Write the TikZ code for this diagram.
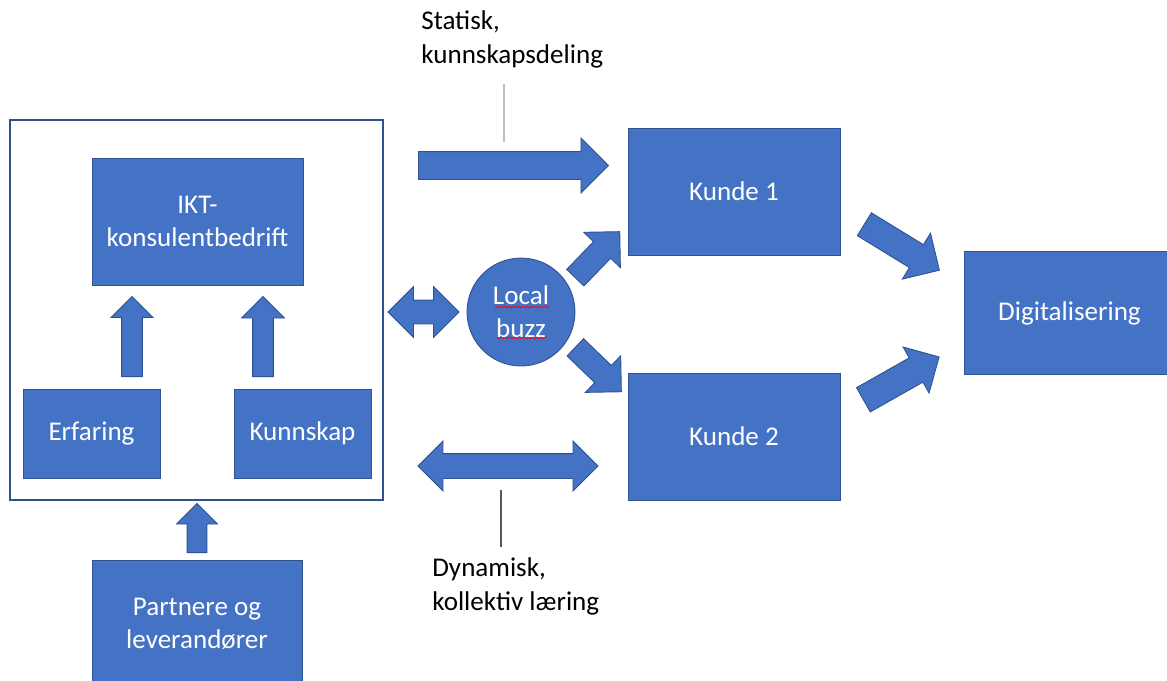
\documentclass[tikz,border=0pt]{standalone}
\usepackage{fontspec}
\setmainfont{Carlito}
\usetikzlibrary{shapes,arrows,calc,decorations.pathmorphing}
\definecolor{boxblue}{HTML}{4472C4}
\definecolor{boxline}{HTML}{2F528F}
\definecolor{guidegray}{HTML}{BFBFBF}
\definecolor{guidedark}{HTML}{595959}
\newcommand{\pxl}{0.569pt}

\begin{document}
\begin{tikzpicture}[x=0.02cm,y=-0.02cm,
    every node/.style={font=\fontsize{15.4}{18.8}\selectfont},
    box/.style 2 args={rectangle,draw=boxline,fill=boxblue,line width=0.5pt,
      text=white,align=center,minimum width=#1*\pxl,minimum height=#2*\pxl},
    blk/.style n args={3}{single arrow,draw=boxline,fill=boxblue,line width=0.5pt,
      inner xsep=0pt,inner ysep={#3/2*\pxl},minimum height=#1*\pxl,minimum width=#2*\pxl,
      single arrow head extend={(#2-#3)/2*\pxl},anchor=tail},
    dblk/.style n args={3}{double arrow,draw=boxline,fill=boxblue,line width=0.5pt,
      inner xsep=0pt,inner ysep={#3/2*\pxl},minimum height=#1*\pxl,minimum width=#2*\pxl,
      double arrow head extend={(#2-#3)/2*\pxl}},
    note/.style={align=left,anchor=base west,inner sep=0pt}]
        \clip (0,0) rectangle (1167,680);
        %Firm with its parts
        \node[draw=boxline,line width=0.8pt,minimum width=373*\pxl,minimum height=380*\pxl] (firma) at (196.5,310) {};
        \node[box={211}{127}] (ikt) at (197.5,221.5) {IKT-\\konsulentbedrift};
        \node[box={137}{89}] (erfaring) at (91.5,433.5) {Erfaring};
        \node[box={137}{89}] (kunnskap) at (302.5,433.5) {Kunnskap};
        \node[blk={80}{41}{20},rotate=90] (opp1) at (132,377) {};
        \node[blk={80}{42}{20},rotate=90] (opp2) at (263,377) {};
        %Partners
        \node[box={210}{127}] (partner) at (197,623.5) {Partnere og\\leverandører};
        \node[blk={49}{40}{19},rotate=90] (opp3) at (197,553) {};
        %Customers
        \node[box={212}{127}] (kunde1) at (734,191.5) {Kunde 1};
        \node[box={212}{127}] (kunde2) at (734,436.5) {Kunde 2};
        \node[box={211}{123}] (digi) at (1069.5,313) {Digitalisering};
        % Local buzz
        \node[circle,draw=boxline,fill=boxblue,line width=0.5pt,text=white,align=center,
              inner sep=0pt,minimum size=108*\pxl] (buzz) at (521,312) {Local\\buzz};
        \draw[red,line width=0.4pt,decorate,decoration={snake,amplitude=0.5pt,segment length=2.5pt}]
              (495,307) -- (547,307) (497,337) -- (547,337);
        \node[dblk={71}{50}{23}] (buzzpil) at (423.5,312) {};
        \node[blk={64}{50}{23},rotate=46] (tilk1) at (575,278) {};
        \node[blk={64}{50}{23},rotate=-44] (tilk2) at (575,347) {};
        \node[blk={88}{53}{26},rotate=-31.5] (k1digi) at (864,224) {};
        \node[blk={87}{52}{27},rotate=29.5] (k2digi) at (863,400) {};
        % Static and dynamic learning
        \node[blk={190}{54}{27}] (statpil) at (418,165.5) {};
        \node[dblk={180}{49}{24}] (dynpil) at (508,466) {};
        \node[note] (statisk) at (421,63) {Statisk,\\kunnskapsdeling};
        \node[note] (dynamisk) at (432,610) {Dynamisk,\\kollektiv læring};
        \coordinate (stattopp) at (504,84);
        \coordinate (statbunn) at (504,142);
        \coordinate (dyntopp) at (501,490);
        \coordinate (dynbunn) at (501,547);
        \draw[guidegray,line width=0.7pt] (stattopp) -- (statbunn);
        \draw[guidedark,line width=0.7pt] (dyntopp) -- (dynbunn);
\end{tikzpicture}
\end{document}
